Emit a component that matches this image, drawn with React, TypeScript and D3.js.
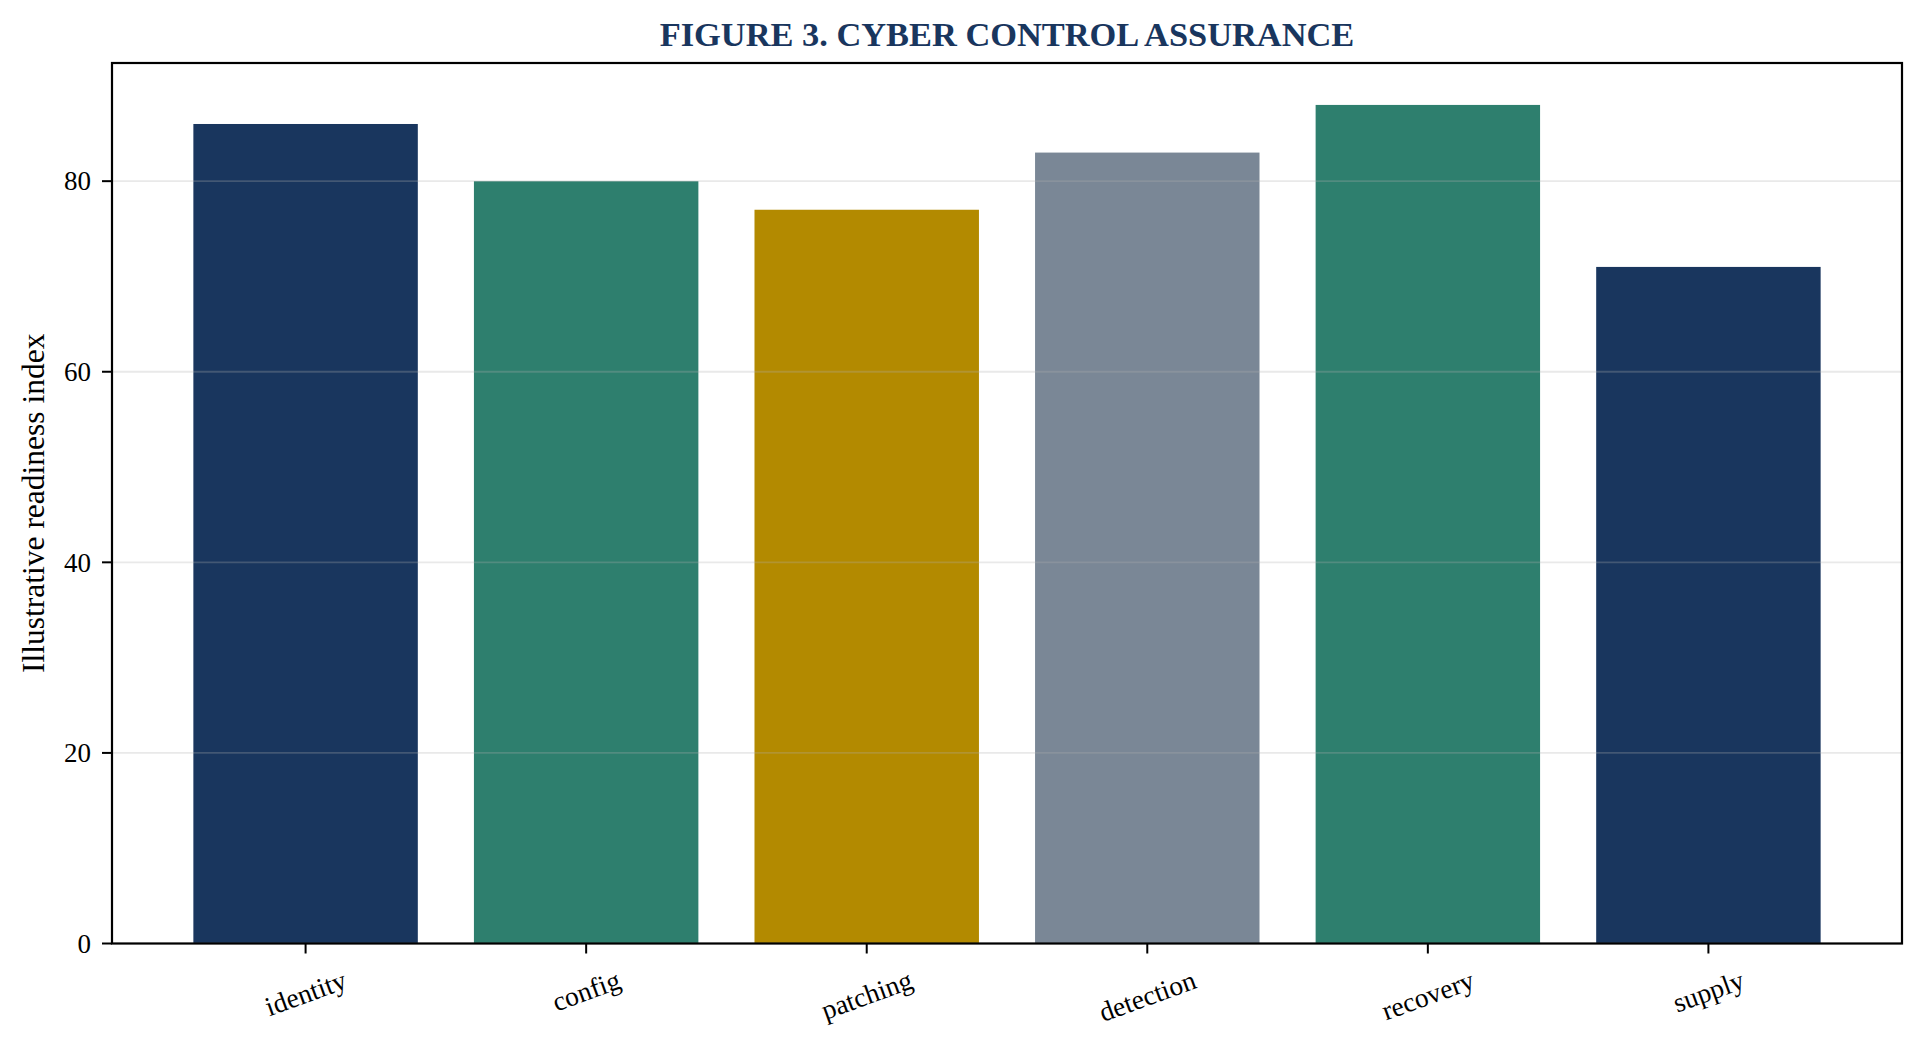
import { useEffect, useRef } from "react";
import * as d3 from "d3";

const CATEGORIES = ["identity", "config", "patching", "detection", "recovery", "supply"];
const VALUES = [86, 80, 77, 83, 88, 71];
const BAR_COLORS = ["#19365e", "#2e7f6e", "#b38a00", "#7a8796", "#2e7f6e", "#19365e"];
const Y_TICKS = [0, 20, 40, 60, 80];

const TITLE = "FIGURE 3. CYBER CONTROL ASSURANCE";
const Y_LABEL = "Illustrative readiness index";

const W = 1924;
const H = 1050;
const M = { left: 112, right: 22, top: 63, bottom: 106.5 };
const FONT = "'Liberation Serif', 'Times New Roman', serif";

export default function App() {
  const svgRef = useRef<SVGSVGElement>(null);

  useEffect(() => {
    if (!svgRef.current) return;
    const svg = d3.select(svgRef.current);
    svg.selectAll("*").remove();

    const x0 = M.left, x1 = W - M.right;
    const y0 = H - M.bottom, y1 = M.top;

    // matplotlib style: bars of width 0.8 with 5% margins
    const x = d3.scaleLinear().domain([-0.69, CATEGORIES.length - 1 + 0.69]).range([x0, x1]);
    const y = d3.scaleLinear().domain([0, d3.max(VALUES)! * 1.05]).range([y0, y1]);

    svg.append("rect").attr("width", W).attr("height", H).attr("fill", "#fff");

    // bars
    svg.selectAll("rect.bar")
      .data(VALUES)
      .enter()
      .append("rect")
      .attr("class", "bar")
      .attr("x", (_, i) => x(i - 0.4))
      .attr("width", x(0.4) - x(-0.4))
      .attr("y", (d) => y(d))
      .attr("height", (d) => y(0) - y(d))
      .attr("fill", (_, i) => BAR_COLORS[i]);

    // grid drawn over the bars
    svg.selectAll("line.grid")
      .data(Y_TICKS)
      .enter()
      .append("line")
      .attr("x1", x0).attr("x2", x1)
      .attr("y1", (d) => y(d)).attr("y2", (d) => y(d))
      .attr("stroke", "#b0b0b0")
      .attr("stroke-opacity", 0.28)
      .attr("stroke-width", 1.8);

    // y ticks
    Y_TICKS.forEach((t) => {
      svg.append("line")
        .attr("x1", x0 - 10).attr("x2", x0)
        .attr("y1", y(t)).attr("y2", y(t))
        .attr("stroke", "#000").attr("stroke-width", 2);
      svg.append("text")
        .attr("x", x0 - 21)
        .attr("y", y(t))
        .attr("dy", "0.34em")
        .attr("text-anchor", "end")
        .attr("font-family", FONT)
        .attr("font-size", 27)
        .attr("fill", "#000")
        .text(t);
    });

    // x ticks + rotated labels
    const rot = 20 * Math.PI / 180;
    CATEGORIES.forEach((c, i) => {
      const cx = x(i);
      svg.append("line")
        .attr("x1", cx).attr("x2", cx)
        .attr("y1", y0).attr("y2", y0 + 10)
        .attr("stroke", "#000").attr("stroke-width", 2);
      const t = svg.append("text")
        .attr("text-anchor", "middle")
        .attr("dominant-baseline", "central")
        .attr("font-family", FONT)
        .attr("font-size", 27.5)
        .attr("fill", "#000")
        .text(c);
      const w = (t.node() as SVGTextElement).getComputedTextLength();
      const h = 27.5 * 1.1;
      const bh = w * Math.sin(rot) + h * Math.cos(rot);
      const cy = y0 + 10 + 11 + bh / 2;
      t.attr("transform", `translate(${cx},${cy}) rotate(-20)`);
    });

    // spines
    svg.append("rect")
      .attr("x", x0).attr("y", y1)
      .attr("width", x1 - x0).attr("height", y0 - y1)
      .attr("fill", "none")
      .attr("stroke", "#000")
      .attr("stroke-width", 2.2);

    // y label
    svg.append("text")
      .attr("transform", `translate(33,${(y0 + y1) / 2}) rotate(-90)`)
      .attr("text-anchor", "middle")
      .attr("dominant-baseline", "central")
      .attr("font-family", FONT)
      .attr("font-size", 31.5)
      .attr("fill", "#000")
      .text(Y_LABEL);

    // title
    svg.append("text")
      .attr("x", (x0 + x1) / 2)
      .attr("y", 45.5)
      .attr("text-anchor", "middle")
      .attr("font-family", FONT)
      .attr("font-weight", "bold")
      .attr("font-size", 34.4)
      .attr("fill", "#19365e")
      .text(TITLE);
  }, []);

  return (
    <div style={{ position: "absolute", left: 0, top: 0, width: W, height: H, background: "#fff" }}>
      <svg ref={svgRef} width={W} height={H} viewBox={`0 0 ${W} ${H}`} />
    </div>
  );
}
